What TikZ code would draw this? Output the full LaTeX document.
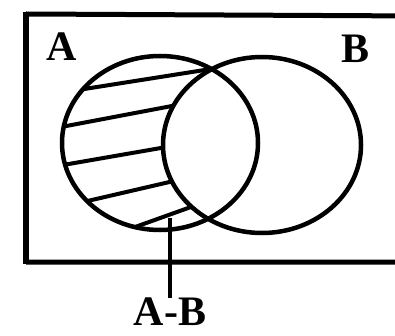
\documentclass[tikz,border=0pt]{standalone}
\usepackage{fontspec}
\setmainfont{Liberation Serif}
\begin{document}
\begin{tikzpicture}[x=1pt,y=-1pt,
  thick line/.style={line width=4.5pt},
  hatch/.style={line width=4pt},
  lbl/.style={font=\fontsize{42}{42}\selectfont\bfseries, inner sep=0pt}]
\useasboundingbox (0,0) rectangle (395,336);
\begin{scope}
\clip (0,0) rectangle (395,336);
\draw[line width=5pt] (26,14) -- (420,16) (420,262) -- (26,262);
\draw[line width=5.5pt] (26,12) -- (26,264);
\end{scope}
% hatching in A, then B interior blanked
\begin{scope}
\clip (160,143) ellipse [x radius=98, y radius=87];
\draw[hatch] (40,96) -- (230,66);
\draw[hatch] (40,131) -- (230,95);
\draw[hatch] (40,169) -- (230,136);
\draw[hatch] (40,212) -- (230,168);
\draw[hatch] (110,236) -- (230,193);
\end{scope}
\fill[white] (262,145) ellipse [x radius=99, y radius=88];
\draw[thick line] (160,143) ellipse [x radius=98, y radius=87];
\draw[thick line] (262,145) ellipse [x radius=99, y radius=88];
\node[lbl] (la) at (62,47) {A};
\node[lbl] (lb) at (355,49) {B};
\node[lbl] (lab) at (170,312) {A-B};
\coordinate (p) at (170,218);
\draw[line width=4.5pt] (p) -- (lab.north);
\end{tikzpicture}
\end{document}
